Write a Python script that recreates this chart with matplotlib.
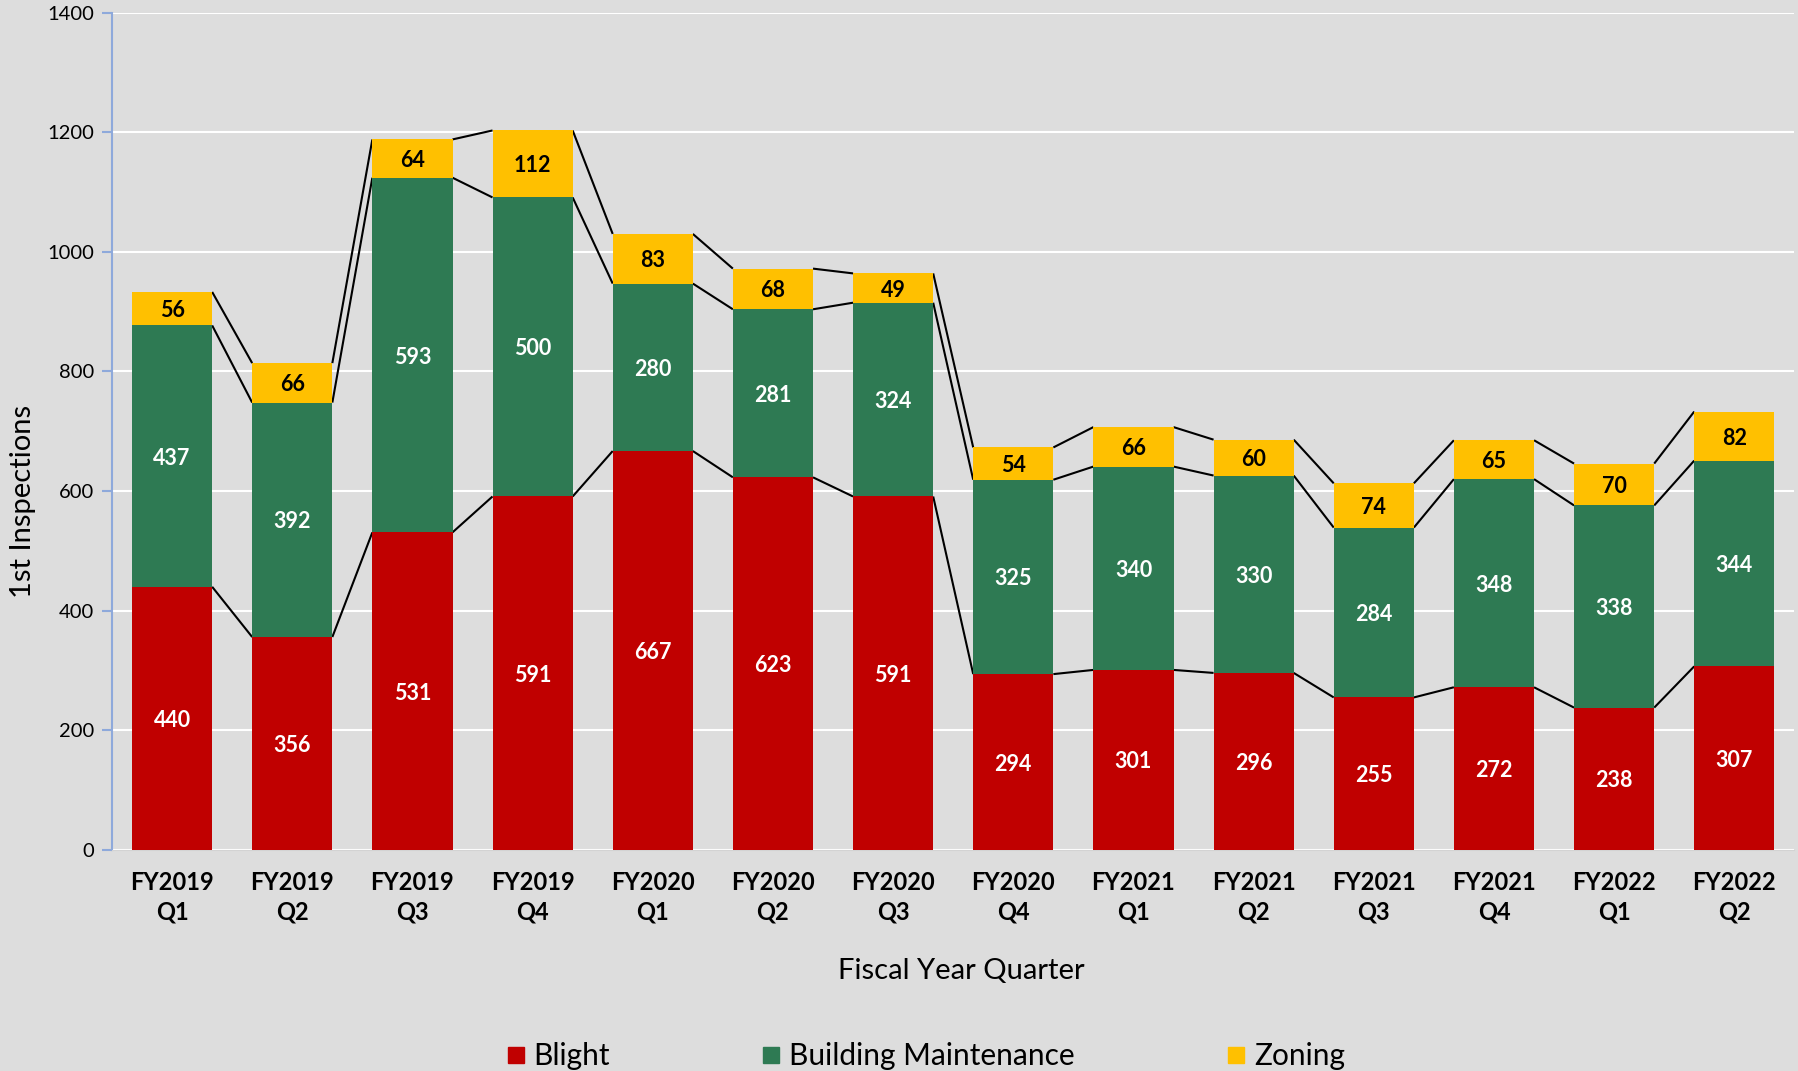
import matplotlib
matplotlib.use("Agg")
import matplotlib.pyplot as plt
from matplotlib.lines import Line2D
import numpy as np

categories = ["FY2019\nQ1", "FY2019\nQ2", "FY2019\nQ3", "FY2019\nQ4",
              "FY2020\nQ1", "FY2020\nQ2", "FY2020\nQ3", "FY2020\nQ4",
              "FY2021\nQ1", "FY2021\nQ2", "FY2021\nQ3", "FY2021\nQ4",
              "FY2022\nQ1", "FY2022\nQ2"]
blight = [440, 356, 531, 591, 667, 623, 591, 294, 301, 296, 255, 272, 238, 307]
building = [437, 392, 593, 500, 280, 281, 324, 325, 340, 330, 284, 348, 338, 344]
zoning = [56, 66, 64, 112, 83, 68, 49, 54, 66, 60, 74, 65, 70, 82]
series_names = ["Blight", "Building Maintenance", "Zoning"]
colors = ["#C00000", "#2E7A53", "#FFC000"]
label_colors = ["white", "white", "black"]
yticks = [0, 200, 400, 600, 800, 1000, 1200, 1400]

plt.rcParams['font.family'] = ['Lato', 'DejaVu Sans']
BG = "#DDDDDD"

fig = plt.figure(figsize=(17.98, 10.71), dpi=100, facecolor=BG)
ax = fig.add_axes([112/1798, 0.2064, 1 - 112/1798 - 0.002, 0.9882 - 0.2064], facecolor=BG)

x = np.arange(len(categories))
w = 0.667
data = [np.array(blight), np.array(building), np.array(zoning)]
bottom = np.zeros(len(categories))
tops = []
for vals, col, lc in zip(data, colors, label_colors):
    ax.bar(x, vals, w, bottom=bottom, color=col, zorder=3)
    for xi, b, v in zip(x, bottom, vals):
        ax.text(xi, b + v / 2, str(v), ha='center', va='center_baseline', color=lc,
                fontsize=15.5, fontweight='bold', zorder=4)
    bottom = bottom + vals
    tops.append(bottom.copy())

# series lines
for t in tops:
    for i in range(len(x) - 1):
        ax.plot([x[i] + w / 2, x[i + 1] - w / 2], [t[i], t[i + 1]],
                color='black', lw=1.5, zorder=2, solid_capstyle='butt')

ax.set_xlim(-0.5, len(categories) - 0.5)
ax.set_ylim(0, 1400)
ax.set_yticks(yticks)
ax.set_xticks(x)
ax.set_xticklabels(categories, fontsize=17, fontweight='bold', linespacing=1.35)
ax.tick_params(axis='x', length=0, pad=15)
ax.tick_params(axis='y', length=7, color='#8EA9DB', width=1.5, labelsize=14.5, pad=6)
ax.yaxis.grid(True, color='white', lw=1.5, zorder=0)
ax.set_axisbelow(True)
for s in ['top', 'right']:
    ax.spines[s].set_visible(False)
ax.spines['left'].set_color('#8EA9DB')
ax.spines['left'].set_linewidth(1.5)
ax.spines['bottom'].set_color('#D3D3D3')

fig.text(23/1798, 1 - 501/1071, "1st Inspections", rotation=90, ha='center', va='center', fontsize=21)
fig.text(961/1798, 1 - 971/1071, "Fiscal Year Quarter", ha='center', va='center', fontsize=21)

handles = [Line2D([], [], marker='s', linestyle='none', markersize=12, color=c) for c in colors]
leg = fig.legend(handles, series_names, loc='center', bbox_to_anchor=(0.515, 1 - 1056/1071),
                 ncol=3, frameon=False, fontsize=21.5, columnspacing=5.1, handlelength=0.6,
                 handletextpad=0.3)

fig.savefig("out.png", dpi=100, facecolor=BG)
